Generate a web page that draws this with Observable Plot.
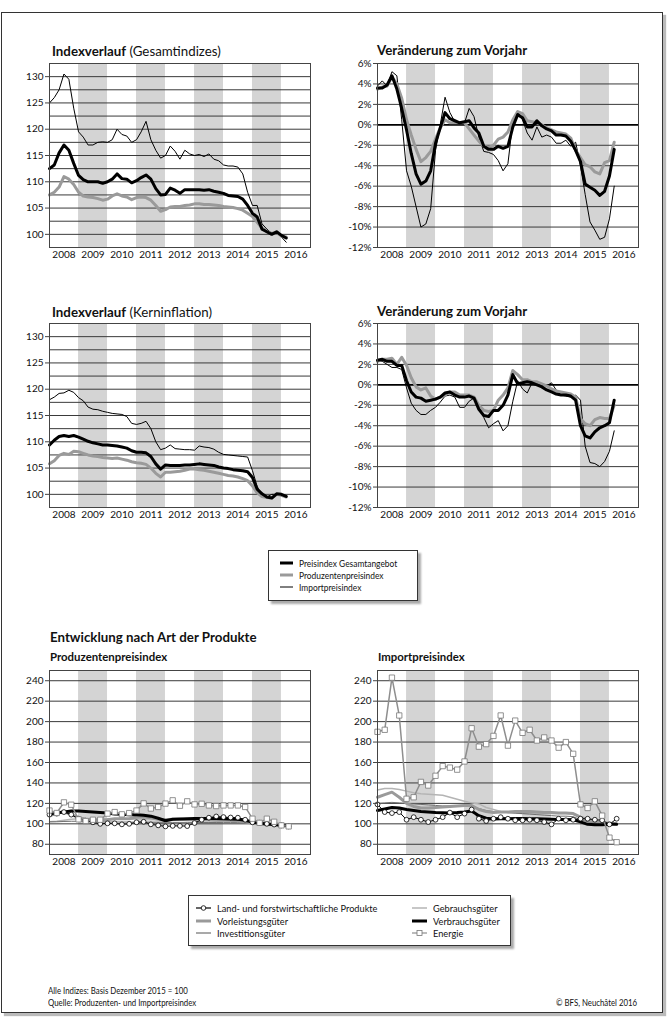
<!DOCTYPE html>
<html><head><meta charset="utf-8">
<script src="https://cdn.jsdelivr.net/npm/d3@7"></script>
<script src="https://cdn.jsdelivr.net/npm/@observablehq/plot@0.6"></script>
<style>
body{margin:0;background:#fff;}
#page{position:relative;width:672px;height:1024px;overflow:hidden;font-family:"Lato",sans-serif;color:#111;}
.t{position:absolute;white-space:nowrap;line-height:1;}
.box{position:absolute;border:1px solid #333;background:#fff;box-shadow:3px 3px 2px #aaa;}
</style></head><body><div id="page"></div>
<script>
const FONT = '"Lato",sans-serif';
// ---- axes / categories
const years = [2008,2009,2010,2011,2012,2013,2014,2015,2016];
const bandYears = [2009,2011,2013,2015];
const idxTicks = [100,105,110,115,120,125,130];
const idxGrid = [100,102.5,105,107.5,110,112.5,115,117.5,120,122.5,125,127.5,130];
const pctTicks = [-12,-10,-8,-6,-4,-2,0,2,4,6];
const pctGrid = [-10,-8,-6,-4,-2,2,4];
const prodTicks = [80,100,120,140,160,180,200,220,240];

// ---- Indexverlauf (Gesamtindizes), every 2 months from Jan 2008
const gesGesamt = [112.5,113.2,115.5,117,116,113.5,111.2,110.4,110,110,110,109.7,110,110.5,111.5,110.6,110.5,109.8,110.2,110.8,111.3,110.5,108.7,107.5,107.6,108.8,108.4,107.8,108.5,108.5,108.5,108.5,108.4,108.5,108.2,108,107.8,107.4,107.3,107.2,106.7,105.5,104,103.3,101,100.5,100,100.5,99.8,99.3];
const gesProd = [107.5,108,109,111,110.5,109.5,108,107.3,107.1,107,106.8,106.5,106.7,107.3,107.7,107.3,107.1,106.6,107,107.1,107,106.5,105.5,104.4,104.7,105.2,105.3,105.3,105.5,105.6,105.8,105.8,105.7,105.7,105.6,105.5,105.3,105.2,105.1,104.9,104.6,104,103.4,102.3,101.2,100.5,100.2,100.3,99.7,99.5];
const gesImport = [125,126,127.5,130.5,129.5,124,119.5,118.5,117,117,117.5,117.6,117.5,118,120,119,118.7,117.5,118,119.5,121.5,118,116,114.5,115,116.8,115.8,114.3,116,115.3,115,115.2,114.8,115.3,114.3,114,113.2,113,113,112.8,111.5,108,105.5,105.5,102,101,100.2,100.5,99.5,98.5];
// ---- Veränderung zum Vorjahr (Gesamt), %
const vjGesamt = [3.6,3.6,3.9,4.8,3.5,1.6,-0.5,-2.8,-4.8,-5.8,-5.5,-4.5,-1.8,-0.3,1.2,0.6,0.4,0.2,0.3,0.4,-0.3,-0.8,-2.1,-2.4,-2.4,-2.1,-2.3,-2.1,-0.2,1.0,0.7,-0.2,-0.2,0.4,-0.1,-0.4,-0.6,-1.0,-1.0,-1.1,-1.6,-2.5,-3.6,-5.8,-6.1,-6.4,-6.9,-6.5,-5.0,-2.4];
const vjProd = [3.5,3.7,3.8,4.7,4.0,2.6,0.5,-1.0,-2.4,-3.6,-3.2,-2.6,-1.4,-0.3,0.5,0.2,0.2,0.2,0.2,-0.4,-1.0,-1.6,-2.1,-2.2,-2.0,-1.4,-1.2,-0.7,0.5,1.3,1.1,0.4,0.3,0.2,0,-0.3,-0.5,-0.7,-0.8,-0.9,-1.3,-2.5,-3.2,-3.9,-4.1,-4.6,-4.8,-3.7,-3.5,-1.7];
const vjImport = [3.8,4.3,3.8,5.2,4.8,0.5,-4.5,-6,-8,-10,-9.7,-8.2,-2.5,0,2.7,1.2,0.3,0.2,0.2,1.6,0.8,-1.2,-2.6,-2.7,-2.9,-3.5,-4.5,-3.8,0.3,1.2,0.5,-0.8,-1.5,-0.2,-1.2,-1,-1.2,-1.8,-1.8,-1.5,-2.1,-1.7,-4,-6.8,-9.5,-10.3,-11.2,-11,-9.2,-6.0];
// ---- Indexverlauf (Kerninflation)
const kerGesamt = [109.4,110.3,111,111.2,111,111.2,110.9,110.5,110.1,109.8,109.6,109.4,109.4,109.3,109.2,109,108.8,108.3,108,108,107.9,107.2,105.8,104.8,105.6,105.5,105.5,105.5,105.6,105.6,105.7,105.8,105.7,105.6,105.5,105.2,105,104.9,104.7,104.6,104.5,104.3,103.2,101,100.1,99.5,99.3,100.1,100,99.6];
const kerProd = [105.8,106.4,107.4,107.8,107.6,108.2,108.1,107.8,107.5,107.3,107.2,107,106.9,106.8,106.9,106.7,106.5,106.2,106,105.9,105.7,105,104,103.3,104.2,104.2,104.3,104.4,104.6,104.8,104.8,104.7,104.6,104.4,104.2,104,103.8,103.6,103.5,103.3,103,102.6,101.6,100.3,99.6,99.4,99.3,100,99.8,99.5];
const kerImport = [118,118.5,119.2,119.3,119.8,119.4,118.4,117.8,116.6,116.2,116.1,115.8,115.6,115.4,115.3,115.2,114.8,113.5,113.3,113.5,113.9,112.5,110,108.5,108.8,109.4,108.7,108.6,108.5,108.5,108.4,109.2,109,108.9,108.6,108,107.6,107.5,107.4,107.3,107.2,107.1,104.5,101.5,99.6,99.5,100,100,99.7,99.6];
// ---- Veränderung zum Vorjahr (Kerninflation), %
const vkGesamt = [2.4,2.5,2.3,2.3,1.9,1.9,0.4,-0.7,-1.2,-1.3,-1.6,-1.5,-1.4,-1.2,-0.8,-0.7,-1.0,-1.2,-1.2,-1.1,-1.3,-2.4,-3.0,-3.1,-2.5,-2.5,-2.0,-1.0,1.0,0.1,0.2,0.3,0.2,0,-0.2,-0.5,-0.7,-0.9,-1.0,-1.0,-1.1,-1.5,-4.0,-5.0,-5.2,-4.6,-4.2,-4.0,-3.7,-1.5];
const vkProd = [2.3,2.5,2.5,2.6,2.0,2.7,1.9,0.7,-0.2,-0.5,-0.3,-1.1,-1.4,-1.2,-1.0,-0.7,-0.7,-1.0,-1.0,-1.0,-1.2,-2.0,-2.5,-2.6,-2.5,-1.5,-1.0,-0.3,1.4,1.0,0.5,0.5,0.3,0.3,0.1,-0.1,-0.4,-0.6,-0.7,-0.8,-0.9,-1.2,-3.3,-3.8,-4.0,-3.4,-3.2,-3.3,-3.3,-2.0];
const vkImport = [2.3,2.3,2.0,1.7,1.7,1.5,-0.3,-1.8,-2.5,-2.9,-2.9,-2.5,-2.2,-1.7,-1.1,-1.0,-1.2,-2.2,-2.2,-1.6,-1.3,-2.0,-3.2,-4.2,-3.8,-3.5,-4.5,-4.0,-1.6,0.4,-0.4,-0.8,0.2,0.2,0,-0.1,0.2,-0.5,-1.0,-1.1,-1.2,-1.0,-1.5,-6.0,-7.6,-7.7,-8.0,-7.5,-6.5,-4.5];
// ---- Produzentenpreisindex nach Produkten, quarterly from Jan 2008
const pLand = [109,110,111.5,109,105,103,101.5,100,100.5,100.5,99.5,100,101.5,102,99.5,98.5,97.5,98,98,97.8,100.8,104,106,107.2,106.6,106.2,106,104,101.5,101,100,99.3,98.5,97.5];
const pVorl = [108,110,112,109,106,104.5,104,103.5,104,105,105,105,106.5,107,106,104.5,104,104.5,104.5,104,104,104,104,103.5,103.5,103.5,103,102,100.5,100,99.5,99,98.5,98];
const pInv = [102,102,102.3,102.5,102.5,102.3,102,101.8,101.8,101.8,101.8,101.7,101.6,101.6,101.5,101.5,101.5,101.4,101.4,101.4,101.4,101.3,101.3,101.3,101.2,101.2,101.2,101,100.5,100.2,100,99.9,99.8,99.6];
const pGebr = [102,102.5,103.5,104.5,105,105,105,105,105,105,104.8,104.8,104.8,104.8,104.7,104.5,104.3,104,104,104,103.8,103.5,103.3,103,103,102.8,102.5,102,101,100.5,100,99.8,99.5,99];
const pVerb = [109.5,110.5,111.7,112.5,112.5,112,111.5,111,110.5,109.7,109.3,109,108.8,108.3,107.5,105.5,103,104.5,104.8,105,105.2,105.3,105.3,105.2,105,104.8,104.5,103.5,101.8,100.5,99.8,99.3,98.5,97.8];
const pEnergie = [113,110.6,121,118.7,104.4,102.8,104,104,110,111.5,109.3,110.5,113,120,115,116.5,119.8,123,117.7,122,119,119.6,118,117.4,118,118,118,116.5,105,101,105,102,98.5,97.5];
// ---- Importpreisindex nach Produkten, quarterly from Jan 2008
const iLand = [119,111.5,110.5,111.5,104,106.5,104,101.8,104,106.5,111,106.5,110,114,105,102.8,105,106.5,105,103.5,103.5,104,103.5,101.8,99.5,105,103.5,104,105,105,104,103.5,99.5,105];
const iVorl = [126,128.5,131,126,120,117,115.5,115.5,116,116.5,117,117.5,118,118,114,112,111,111.5,111.5,112,112,112,111.5,111,111,110.5,110.5,110,106.5,104,102,101,100.5,100];
const iInv = [120,120.5,121,120.5,120,119.5,119,118.5,118,117.5,117.5,117.5,117.5,117,115,113,112,111.5,111,110.5,110,109.5,109,108.5,108,107.5,107.5,107,104,102,101,100.5,100.5,100];
const iGebr = [133,134.5,134.5,133.5,132,130.5,129.5,129,128.5,128,126,124,122,120.5,119.5,116,114,112,111,110.5,110,110,110,110,110,110,110,109.5,106,103,101.5,101,100.5,100];
const iVerb = [113,114.5,116,115.5,114,113,112,111.5,111,110.8,110.7,111,111.5,112.5,108,105.5,104.8,105,105,105.2,105.2,105,105,104.8,104.5,104.3,104.2,104,102,99.5,99,99,99.5,99.5];
const iEnergie = [190,192,243,206,124.5,126,141,137.5,147,156.5,155,153,161,193.5,175.5,178,186,206,176.5,201,189,192,181.5,184.5,181.5,174.5,180,168.5,119,115.5,122,108,86.5,82];

// ---- styles
const C = {black:"#000", gray:"#9a9a9a", light:"#b4b4b4", inv:"#707070", energie:"#8e8e8e", band:"#d4d4d4", grid:"#3a3a3a", frame:"#444"};

const U = (y, m = 0) => new Date(Date.UTC(y, m, 1));
const biDates = d3.utcMonth.every(2).range(U(2008, 0), U(2016, 3));
const qDates = d3.utcMonth.every(3).range(U(2008, 0), U(2016, 5));
const pts = (arr, dates) => arr.map((v, i) => ({date: dates[i], v}));
const page = document.getElementById("page");

function txt(s, x, y, {size = 10, weight = 400, anchor = "start", html = false, sx = 1} = {}) {
  const d = document.createElement("div");
  d.className = "t";
  d.style.fontSize = size + "px";
  d.style.fontWeight = weight;
  d.style.top = (y - size * 0.5) + "px";
  if (html) d.innerHTML = s; else d.textContent = s;
  if (anchor === "end") { d.style.right = (672 - x) + "px"; d.style.transformOrigin = "right center"; }
  else { d.style.left = x + "px"; d.style.transformOrigin = "left center"; }
  if (sx !== 1) d.style.transform = `scaleX(${sx})`;
  page.appendChild(d);
  return d;
}

function panel({fx, fy, domain, grid, ticks, fmt, lines, dots = [], zero = false}) {
  const mL = 45, mR = 12, mT = 8, mB = 22, W = 261, H = 184;
  const p = Plot.plot({
    width: mL + W + mR, height: mT + H + mB,
    marginLeft: mL, marginRight: mR, marginTop: mT, marginBottom: mB,
    style: {fontFamily: FONT, fontSize: "10px", color: "#111", background: "transparent", overflow: "visible"},
    x: {type: "utc", domain: [U(2008), U(2017)]},
    y: {domain},
    marks: [
      Plot.rect(bandYears, {x1: d => U(d), x2: d => U(d + 1), fill: C.band}),
      Plot.ruleY(grid, {stroke: C.grid, strokeWidth: 1}),
      zero ? Plot.ruleY([0], {stroke: "#000", strokeWidth: 1.8}) : null,
      ...lines.map(s => Plot.line(s.data, {x: "date", y: "v", stroke: s.color, strokeWidth: s.w, strokeLinejoin: "round"})),
      ...dots,
      Plot.frame({stroke: C.frame}),
      Plot.axisY(ticks, {tickSize: 4, tickPadding: 2, tickFormat: fmt, stroke: C.frame, label: null}),
      Plot.axisX(years.map(y => U(y, 6)), {tickSize: 0, tickPadding: 3, tickFormat: d => String(d.getUTCFullYear()), label: null})
    ]
  });
  p.style.position = "absolute";
  p.style.left = (fx - mL) + "px";
  p.style.top = (fy - mT) + "px";
  page.appendChild(p);
}

const pct = d => d + "%";
const num = d => String(d);
const trio = (g, p, i, d) => [
  {data: pts(i, d), color: C.black, w: 1},
  {data: pts(p, d), color: C.gray, w: 3},
  {data: pts(g, d), color: C.black, w: 3}
];

// outer frame
const fr = document.createElement("div");
fr.className = "box";
Object.assign(fr.style, {left: "1px", top: "12px", width: "660px", height: "999px", boxShadow: "3px 3px 1px #bbb", background: "transparent"});
page.appendChild(fr);

// titles
txt("<b>Indexverlauf</b> (Gesamtindizes)", 52, 51, {size: 14, html: true, sx: 0.95});
txt("<b>Veränderung zum Vorjahr</b>", 377, 50, {size: 14, html: true, sx: 0.95});
txt("<b>Indexverlauf</b> (Kerninflation)", 52, 312, {size: 14, html: true, sx: 0.95});
txt("<b>Veränderung zum Vorjahr</b>", 377, 311, {size: 14, html: true, sx: 0.95});
txt("Entwicklung nach Art der Produkte", 50, 637, {size: 14, weight: 700, sx: 0.95});
txt("Produzentenpreisindex", 50, 657, {size: 12, weight: 700, sx: 0.95});
txt("Importpreisindex", 378, 657, {size: 12, weight: 700, sx: 0.95});

panel({fx: 49, fy: 63, domain: [97.5, 132.5], grid: idxGrid, ticks: idxTicks, fmt: num, lines: trio(gesGesamt, gesProd, gesImport, biDates)});
panel({fx: 377, fy: 63, domain: [-12, 6], grid: pctGrid, ticks: pctTicks, fmt: pct, zero: true, lines: trio(vjGesamt, vjProd, vjImport, biDates)});
panel({fx: 49, fy: 323, domain: [97.5, 132.5], grid: idxGrid, ticks: idxTicks, fmt: num, lines: trio(kerGesamt, kerProd, kerImport, biDates)});
panel({fx: 377, fy: 323, domain: [-12, 6], grid: pctGrid, ticks: pctTicks, fmt: pct, zero: true, lines: trio(vkGesamt, vkProd, vkImport, biDates)});

function products(land, vorl, inv, gebr, verb, en) {
  const lines = [
    {data: pts(gebr, qDates), color: C.light, w: 1.5},
    {data: pts(inv, qDates), color: C.inv, w: 1},
    {data: pts(vorl, qDates), color: C.gray, w: 3},
    {data: pts(verb, qDates), color: C.black, w: 3},
    {data: pts(land, qDates), color: C.black, w: 1},
    {data: pts(en, qDates), color: C.energie, w: 1.5}
  ];
  const dots = [
    Plot.dot(pts(land, qDates), {x: "date", y: "v", r: 2.4, fill: "#fff", stroke: "#000", strokeWidth: 0.8}),
    Plot.dot(pts(en, qDates), {x: "date", y: "v", symbol: "square", r: 3, fill: "#fff", stroke: "#777", strokeWidth: 0.8})
  ];
  return {lines, dots};
}
panel({fx: 49, fy: 670, domain: [70, 250], grid: prodTicks, ticks: prodTicks, fmt: num, ...products(pLand, pVorl, pInv, pGebr, pVerb, pEnergie)});
panel({fx: 377, fy: 670, domain: [70, 250], grid: prodTicks, ticks: prodTicks, fmt: num, ...products(iLand, iVorl, iInv, iGebr, iVerb, iEnergie)});

// legends
function swatch(x, y, w, color, sw, marker) {
  const ns = "http://www.w3.org/2000/svg";
  const s = document.createElementNS(ns, "svg");
  s.setAttribute("width", w + 4); s.setAttribute("height", 10);
  s.style.position = "absolute"; s.style.left = (x - 2) + "px"; s.style.top = (y - 5) + "px";
  const l = document.createElementNS(ns, "line");
  l.setAttribute("x1", 2); l.setAttribute("x2", w + 2); l.setAttribute("y1", 5); l.setAttribute("y2", 5);
  l.setAttribute("stroke", color); l.setAttribute("stroke-width", sw);
  s.appendChild(l);
  if (marker) {
    const m = document.createElementNS(ns, marker === "circle" ? "circle" : "rect");
    if (marker === "circle") { m.setAttribute("cx", w / 2 + 2); m.setAttribute("cy", 5); m.setAttribute("r", 2.3); }
    else { m.setAttribute("x", w / 2 - 0.5); m.setAttribute("y", 2.5); m.setAttribute("width", 5); m.setAttribute("height", 5); }
    m.setAttribute("fill", "#fff"); m.setAttribute("stroke", marker === "circle" ? "#000" : "#777"); m.setAttribute("stroke-width", 0.8);
    s.appendChild(m);
  }
  page.appendChild(s);
}
const lg1 = document.createElement("div"); lg1.className = "box";
Object.assign(lg1.style, {left: "268px", top: "550px", width: "148px", height: "49px"});
page.appendChild(lg1);
const legend1 = [["Preisindex Gesamtangebot", C.black, 3], ["Produzentenpreisindex", C.gray, 3], ["Importpreisindex", C.black, 1]];
legend1.forEach(([s, c, w], i) => { const y = 563 + i * 12; swatch(280, y, 13, c, w); txt(s, 299, y, {size: 10, sx: 0.84}); });

const lg2 = document.createElement("div"); lg2.className = "box";
Object.assign(lg2.style, {left: "188px", top: "895px", width: "321px", height: "49px"});
page.appendChild(lg2);
const legend2 = [
  ["Land- und forstwirtschaftliche Produkte", C.black, 1.2, "circle", 0, 0],
  ["Vorleistungsgüter", C.gray, 3, null, 0, 1],
  ["Investitionsgüter", C.inv, 1.2, null, 0, 2],
  ["Gebrauchsgüter", C.light, 1.5, null, 1, 0],
  ["Verbrauchsgüter", C.black, 3, null, 1, 1],
  ["Energie", C.energie, 1.2, "square", 1, 2]
];
legend2.forEach(([s, c, w, m, col, row]) => {
  const y = 908 + row * 12.5;
  const x = col ? 412 : 196;
  swatch(x, y, 15, c, w, m);
  txt(s, x + 21, y, {size: 10, sx: 0.92});
});

// footer
txt("Alle Indizes: Basis Dezember 2015 = 100", 48, 991, {size: 8.5, sx: 0.92});
txt("Quelle: Produzenten- und Importpreisindex", 48, 1003, {size: 8.5, sx: 0.92});
txt("© BFS, Neuchâtel 2016", 637, 1003, {size: 8.5, anchor: "end", sx: 0.92});
</script>
</body></html>
